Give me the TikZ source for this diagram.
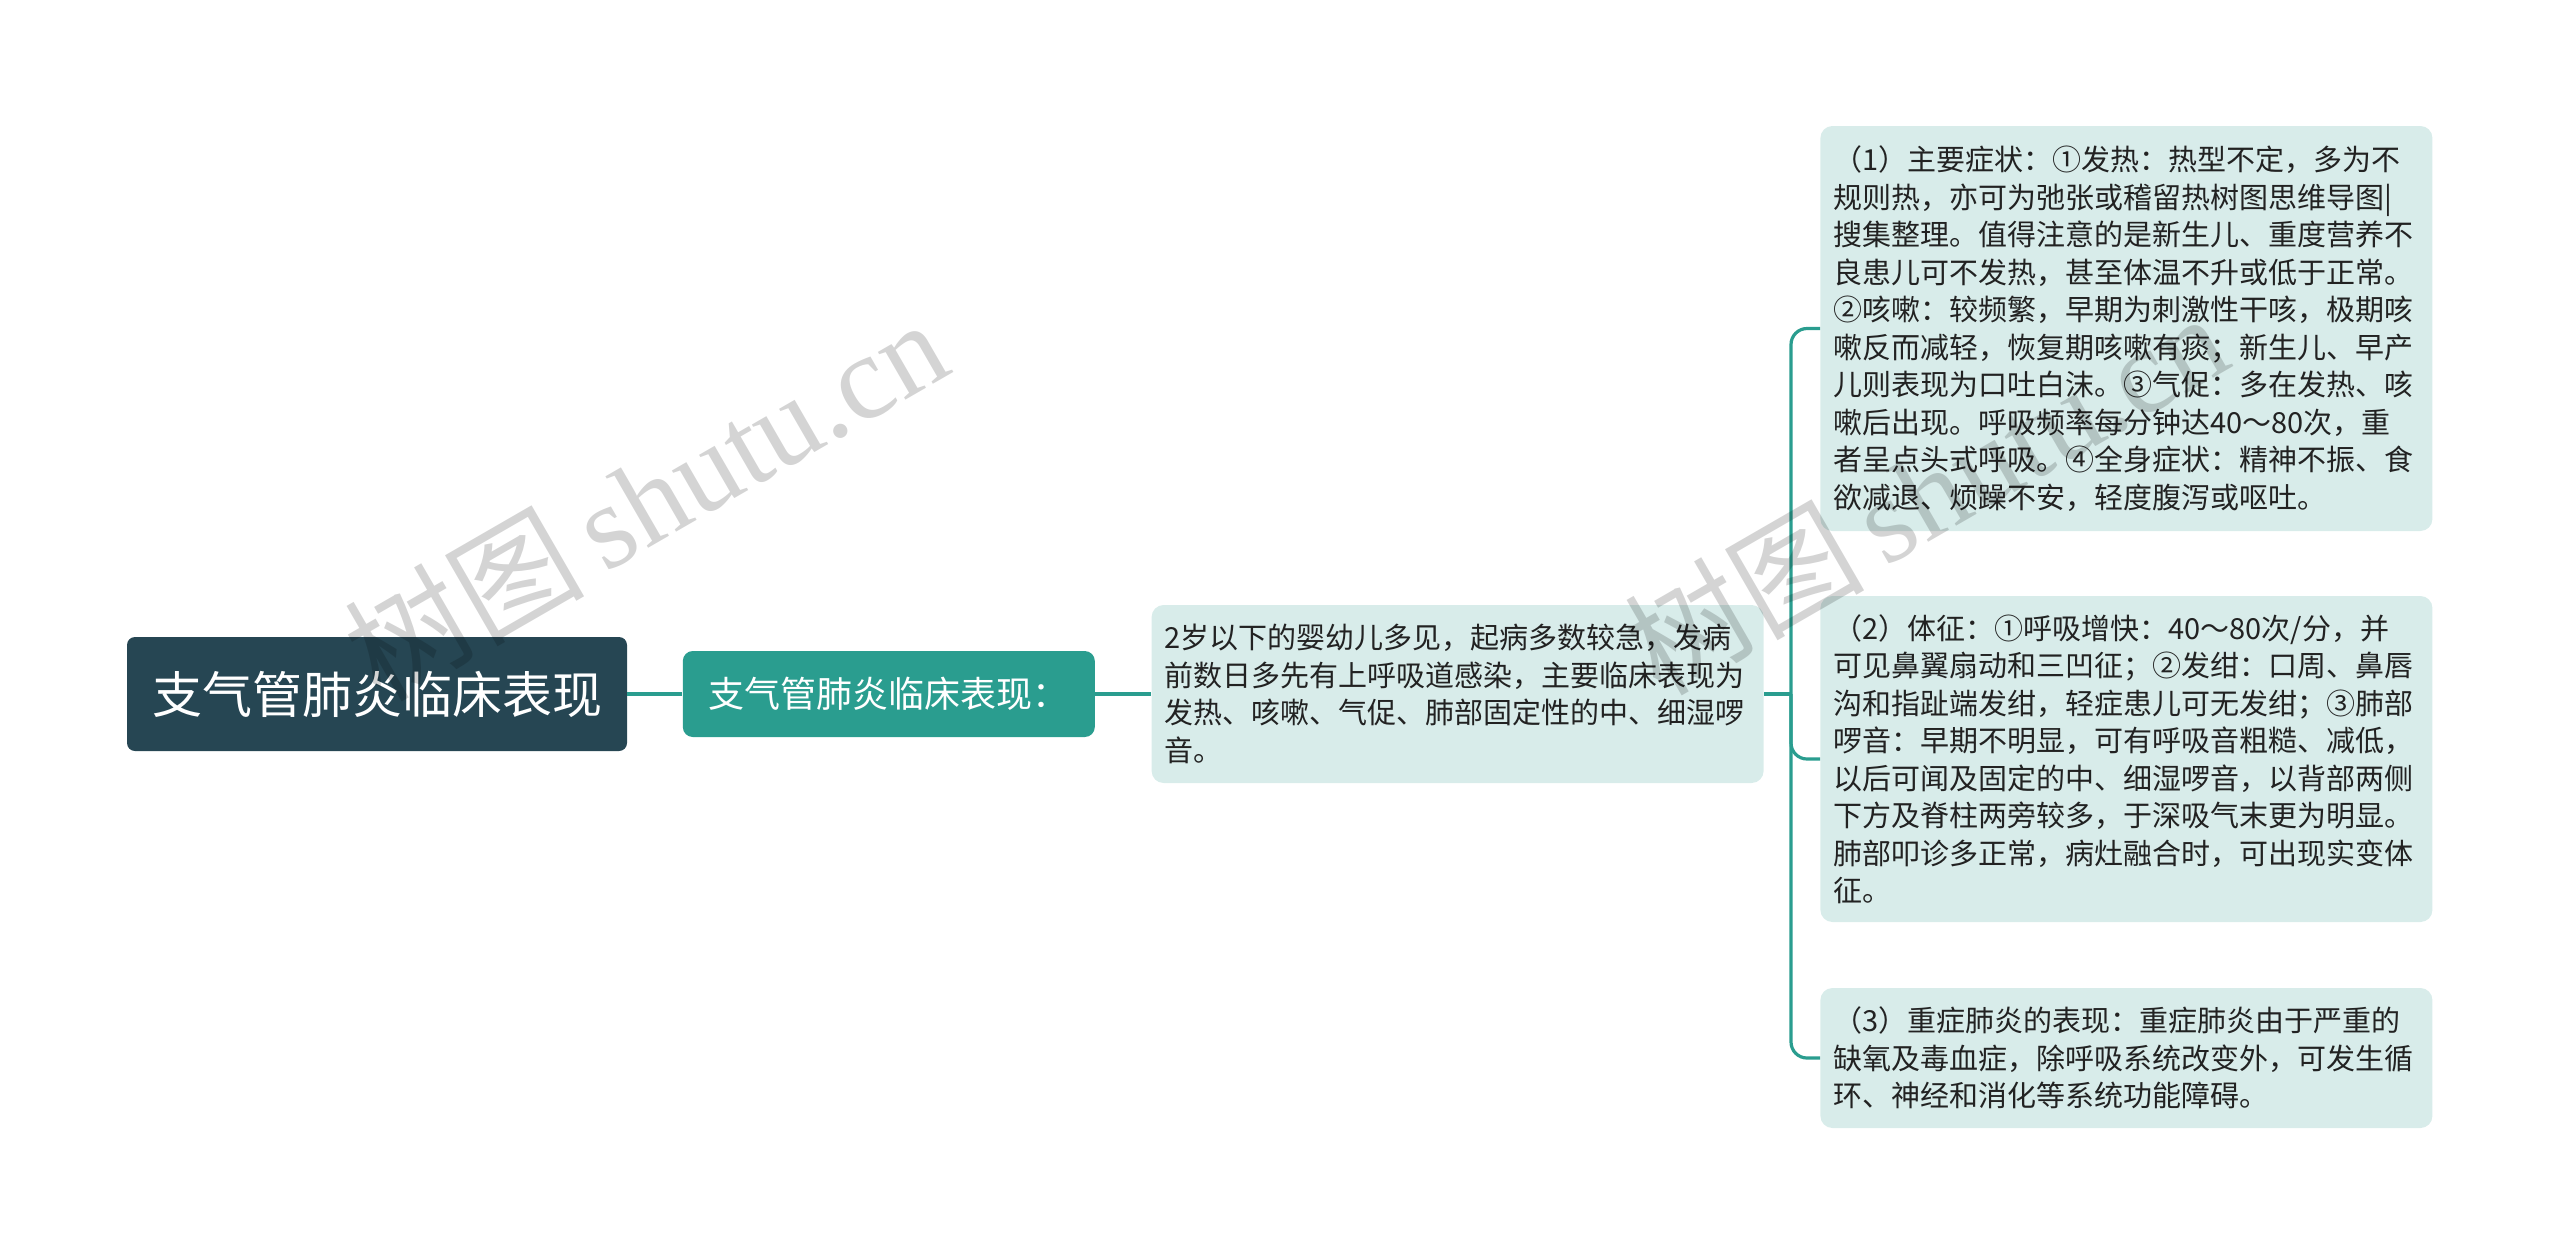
\documentclass[tikz,border=0pt]{standalone}
\usepackage{fontspec}
\setmainfont{Noto Sans CJK SC}
\newfontfamily\wmlatin{Liberation Serif}
\usepackage{xcolor}
\usetikzlibrary{positioning,calc}

\definecolor{rootfill}{RGB}{38,70,83}
\definecolor{mmteal}{RGB}{42,157,143}
\definecolor{leaffill}{RGB}{216,236,234}
\definecolor{leaftext}{RGB}{34,34,34}

\begin{document}
\begin{tikzpicture}[
	x=0.5pt,y=-0.5pt,
	rootbox/.style={
		rectangle,
		rounded corners=4pt,
		fill=rootfill,
		text=white,
		inner sep=0pt,
		minimum width=250pt,
		minimum height=57pt,
		font=\fontsize{25}{30}\selectfont
	},
	subbox/.style={
		rectangle,
		rounded corners=5pt,
		fill=mmteal,
		text=white,
		inner sep=0pt,
		minimum width=206pt,
		minimum height=43pt,
		font=\fontsize{18}{22}\selectfont
	},
	leaf/.style={
		rectangle,
		rounded corners=6pt,
		fill=leaffill,
		text=leaftext,
		align=left,
		anchor=west,
		inner xsep=6.5pt,
		inner ysep=0pt,
		text width=293pt,
		font=\fontsize{14.5}{18.75}\selectfont
	},
	link/.style={
		draw=mmteal,
		line width=1.6pt
	},
	wmtext/.style={
		text=black,
		text opacity=0.17,
		rotate=30,
		inner sep=0pt
	},
	]
	\useasboundingbox (0,0) rectangle (2560,1255);

	\node[rootbox] (root) at (377,694) {支气管肺炎临床表现};
	\node[subbox,right=27.5pt of root] (sub) {支气管肺炎临床表现：};
	\node[leaf,right=28pt of sub,minimum height=89pt] (desc) {2岁以下的婴幼儿多见，起病多数较急，发病\\前数日多先有上呼吸道感染，主要临床表现为\\发热、咳嗽、气促、肺部固定性的中、细湿啰\\音。};

	\node[leaf,minimum height=202.5pt] (sym) at (1820,328.5) {（1）主要症状：①发热：热型不定，多为不\\规则热，亦可为弛张或稽留热树图思维导图|\\搜集整理。值得注意的是新生儿、重度营养不\\良患儿可不发热，甚至体温不升或低于正常。\\②咳嗽：较频繁，早期为刺激性干咳，极期咳\\嗽反而减轻，恢复期咳嗽有痰；新生儿、早产\\儿则表现为口吐白沫。③气促：多在发热、咳\\嗽后出现。呼吸频率每分钟达40～80次，重\\者呈点头式呼吸。④全身症状：精神不振、食\\欲减退、烦躁不安，轻度腹泻或呕吐。};
	\node[leaf,minimum height=163pt] (sign) at (1820,759) {（2）体征：①呼吸增快：40～80次/分，并\\可见鼻翼扇动和三凹征；②发绀：口周、鼻唇\\沟和指趾端发绀，轻症患儿可无发绀；③肺部\\啰音：早期不明显，可有呼吸音粗糙、减低，\\以后可闻及固定的中、细湿啰音，以背部两侧\\下方及脊柱两旁较多，于深吸气末更为明显。\\肺部叩诊多正常，病灶融合时，可出现实变体\\征。};
	\node[leaf,minimum height=70pt] (sev) at (1820,1058) {（3）重症肺炎的表现：重症肺炎由于严重的\\缺氧及毒血症，除呼吸系统改变外，可发生循\\环、神经和消化等系统功能障碍。};

	\draw[link] (root) -- (sub);
	\draw[link] (sub) -- (desc);
	\coordinate (fork) at ($(desc.east)+(27,0)$);
	\draw[link] (desc.east) -- (fork);
	\foreach \kid in {sym,sign,sev}
		\draw[link,rounded corners=8pt] (fork) |- (\kid.west);

	% watermarks
	\node[wmtext] (wm1) at (645,498) {\fontsize{60}{60}\selectfont 树图\,\wmlatin shutu.cn};
	\node[wmtext] (wm2) at (1925,492) {\fontsize{60}{60}\selectfont 树图\,\wmlatin shutu.cn};
\end{tikzpicture}
\end{document}
